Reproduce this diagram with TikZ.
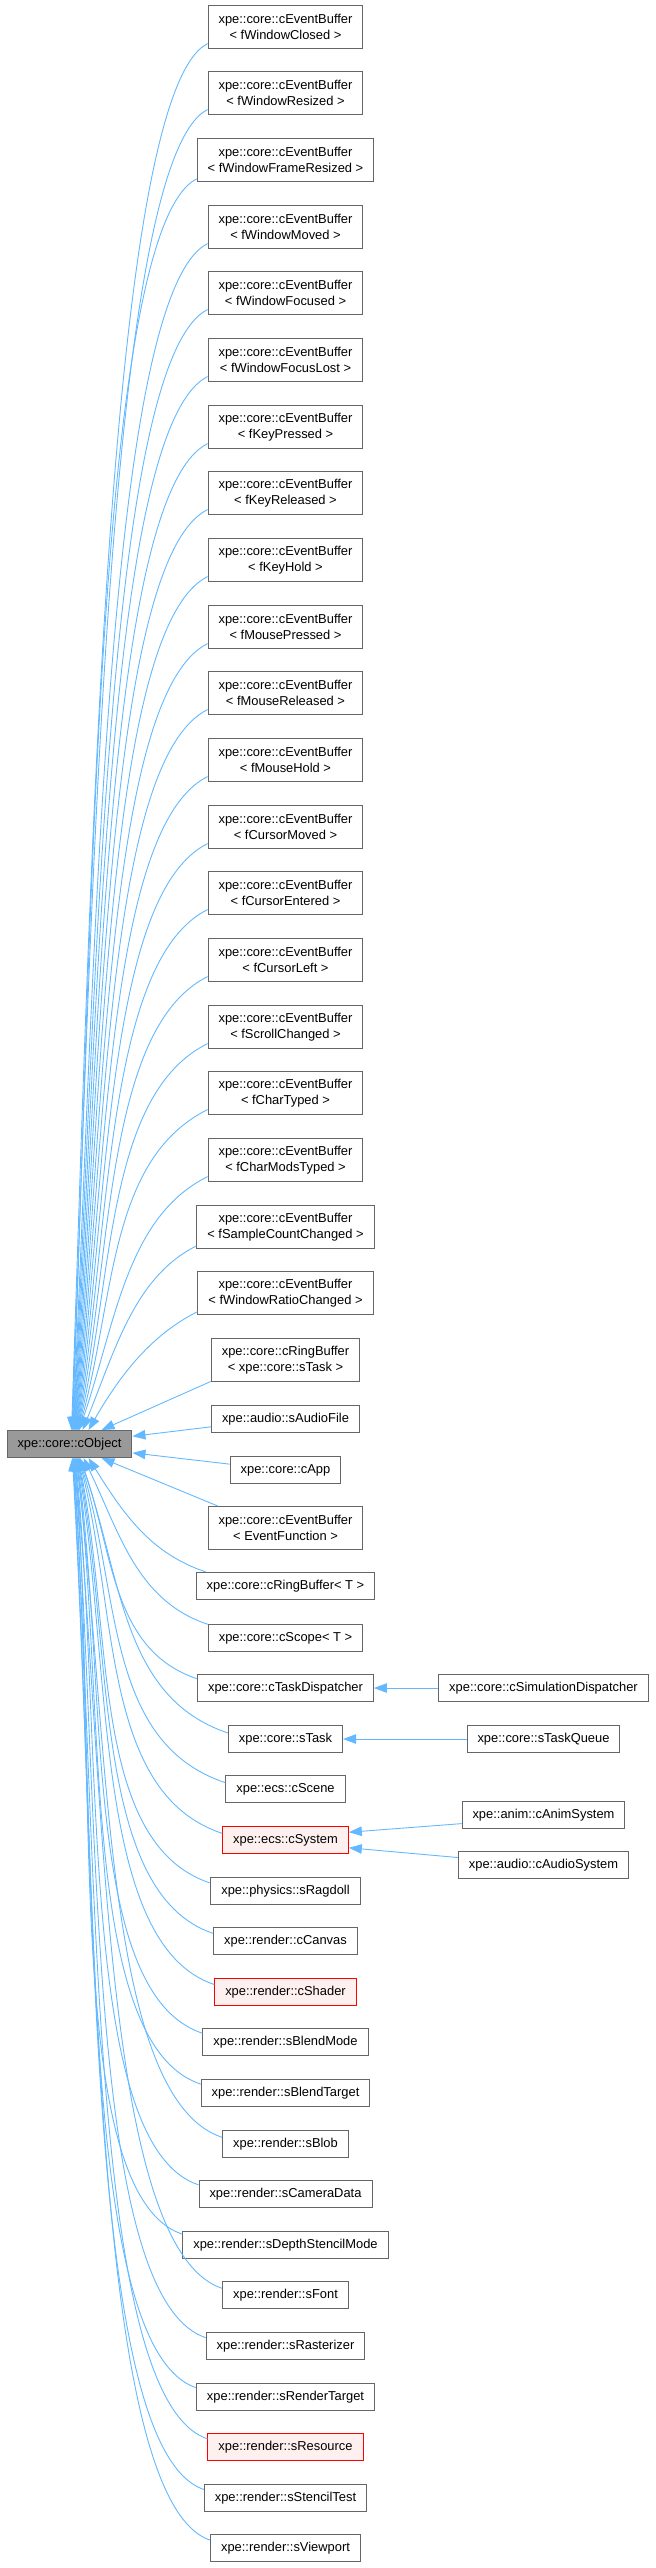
\documentclass[tikz,border=0pt]{standalone}
\usepackage{fontspec}
\setmainfont{Liberation Sans}
\usetikzlibrary{arrows.meta,calc}
\definecolor{edgeblue}{HTML}{63B8FF}
\definecolor{boxgray}{HTML}{666666}
\definecolor{objfill}{HTML}{999999}
\definecolor{redfill}{HTML}{FFF0F0}
\newcommand\upedge[3]{%
  \draw[inh] let \p1=(#1.#2), \p2=([xshift=#3pt]obj.north west),
    \n1={\x1-\x2}, \n2={\y1-\y2}, \n3={100*veclen(\n1/100,\n2/100)}, \n4={atan2(\n2,\n1)},
    \n5={min(1,\n3/350)}, \n6={0.3+0.35*min(1,max(0,(\n2-300)/1100))},
    \n7={\n4+\n6*(90-\n4)}, \n8={0.4*\n3},
    \n{ax}={\x1-100*\n5}, \n{ay}={\y1-50*\n5},
    \n{bx}={\x2+\n8*cos(\n7)}, \n{by}={\y2+\n8*sin(\n7)}
    in (\p1) .. controls (\n{ax},\n{ay}) and (\n{bx},\n{by}) .. (\p2);}
\newcommand\downedge[3]{%
  \draw[inh] let \p1=(#1.#2), \p2=([xshift=#3pt]obj.south west),
    \n1={\x1-\x2}, \n2={\y2-\y1}, \n3={100*veclen(\n1/100,\n2/100)}, \n4={atan2(\n2,\n1)},
    \n5={min(1,\n3/350)}, \n6={0.3+0.35*min(1,max(0,(\n2-300)/1100))},
    \n7={\n4+\n6*(90-\n4)}, \n8={0.4*\n3},
    \n{ax}={\x1-120*\n5}, \n{ay}={\y1+40*\n5},
    \n{bx}={\x2+\n8*cos(\n7)}, \n{by}={\y2-\n8*sin(\n7)}
    in (\p1) .. controls (\n{ax},\n{ay}) and (\n{bx},\n{by}) .. (\p2);}
\begin{document}
\begin{tikzpicture}[x=1pt,y=1pt,
  cls/.style={draw=boxgray, fill=white, line width=1pt, inner xsep=10.5pt, inner ysep=0pt,
    minimum height=27pt, align=center, font={\fontsize{12.9pt}{16pt}\selectfont}},
  two/.style={minimum height=43pt},
  redcls/.style={cls, draw=red, fill=redfill},
  objcls/.style={cls, fill=objfill},
  inh/.style={draw=edgeblue, line width=0.9pt, -{Triangle[length=13pt,width=9.5pt]}}]
\useasboundingbox (0,0) rectangle (656,-2568);
% upper event buffers
\foreach \i/\lbl in {1/fWindowClosed,2/fWindowResized,3/fWindowFrameResized,4/fWindowMoved,
  5/fWindowFocused,6/fWindowFocusLost,7/fKeyPressed,8/fKeyReleased,9/fKeyHold,
  10/fMousePressed,11/fMouseReleased,12/fMouseHold,13/fCursorMoved,14/fCursorEntered,
  15/fCursorLeft,16/fScrollChanged,17/fCharTyped,18/fCharModsTyped,
  19/fSampleCountChanged,20/fWindowRatioChanged}
  \node[cls,two] (u\i) at (285.5,{-round(26.5+(\i-1)*66.68)}) {xpe::core::cEventBuffer\\< \lbl\ >};
\node[cls,two] (u21) at (285.5,-1360) {xpe::core::cRingBuffer\\< xpe::core::sTask >};
% middle
\node[cls] (saudio) at (285.5,-1419) {xpe::audio::sAudioFile};
\node[objcls] (obj) at (69.5,-1444) {xpe::core::cObject};
\node[cls] (capp) at (285.5,-1470) {xpe::core::cApp};
\node[cls,two] (evf) at (285.5,-1528) {xpe::core::cEventBuffer\\< EventFunction >};
\node[cls] (ringt) at (285.5,-1586) {xpe::core::cRingBuffer< T >};
\node[cls] (scope) at (285.5,-1638) {xpe::core::cScope< T >};
\node[cls] (taskd) at (285.5,-1688) {xpe::core::cTaskDispatcher};
\node[cls] (stask) at (285.5,-1739) {xpe::core::sTask};
\node[cls] (scene) at (285.5,-1789) {xpe::ecs::cScene};
\node[redcls] (csys) at (285.5,-1840) {xpe::ecs::cSystem};
\node[cls] (ragdoll) at (285.5,-1891) {xpe::physics::sRagdoll};
\node[cls] (canvas) at (285.5,-1941) {xpe::render::cCanvas};
\node[redcls] (shader) at (285.5,-1992) {xpe::render::cShader};
\node[cls] (blendmode) at (285.5,-2042) {xpe::render::sBlendMode};
\node[cls] (blendtarget) at (285.5,-2093) {xpe::render::sBlendTarget};
\node[cls] (blob) at (285.5,-2144) {xpe::render::sBlob};
\node[cls] (camera) at (285.5,-2194) {xpe::render::sCameraData};
\node[cls] (depth) at (285.5,-2245) {xpe::render::sDepthStencilMode};
\node[cls] (sfont) at (285.5,-2295) {xpe::render::sFont};
\node[cls] (raster) at (285.5,-2346) {xpe::render::sRasterizer};
\node[cls] (rtarget) at (285.5,-2397) {xpe::render::sRenderTarget};
\node[redcls] (resource) at (285.5,-2447) {xpe::render::sResource};
\node[cls] (stencil) at (285.5,-2498) {xpe::render::sStencilTest};
\node[cls] (viewport) at (285.5,-2548) {xpe::render::sViewport};
% right column
\node[cls] (simdisp) at (543.5,-1688) {xpe::core::cSimulationDispatcher};
\node[cls] (taskq) at (543.5,-1739) {xpe::core::sTaskQueue};
\node[cls] (anim) at (543.5,-1815) {xpe::anim::cAnimSystem};
\node[cls] (audiosys) at (543.5,-1865) {xpe::audio::cAudioSystem};
% edges upper
\foreach[evaluate=\i as \tx using 65+0.45*(\i-1)] \i in {1,...,18} {\upedge{u\i}{192}{\tx}}
\upedge{u19}{192}{76}
\upedge{u20}{192}{82}
\draw[inh] (u21.196) -- ([xshift=95pt]obj.north west);
% edges lower
\draw[inh] (evf.162) -- ([xshift=95pt]obj.south west);
\downedge{ringt}{170}{82}
\downedge{scope}{170}{77}
\foreach[count=\j, evaluate=\j as \tx using 73.5-0.45*(\j-1)] \nm in
  {taskd,stask,scene,csys,ragdoll,canvas,shader,blendmode,blendtarget,blob,camera,depth,sfont,raster,rtarget,resource,stencil,viewport}
  {\downedge{\nm}{174}{\tx}}
% side edges
\draw[inh] (saudio.186) -- (obj.7);
\draw[inh] (capp.174) -- (obj.-8);
\draw[inh] (simdisp.west) -- (taskd.east);
\draw[inh] (taskq.west) -- (stask.east);
\draw[inh] (anim.186) -- (csys.7);
\draw[inh] (audiosys.175) -- (csys.-7);
\end{tikzpicture}
\end{document}
